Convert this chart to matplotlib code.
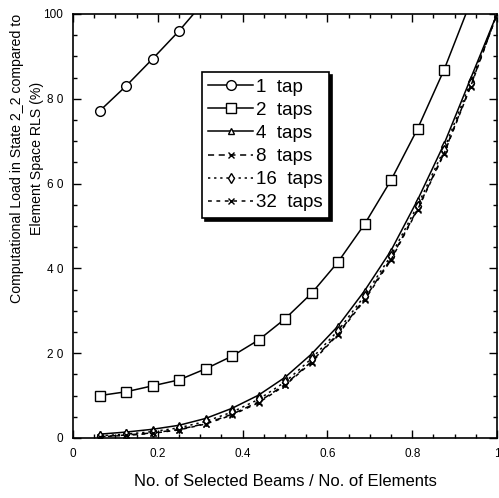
import matplotlib
matplotlib.use("Agg")
import matplotlib.pyplot as plt
from matplotlib.ticker import MultipleLocator

plt.rcParams['font.family'] = ['Liberation Sans', 'DejaVu Sans']

x = [k / 16 for k in range(1, 17)]
tap1 = [77.1, 83.0, 89.4, 96.0, 103.3]
tap2 = [10.0, 10.9, 12.3, 13.7, 16.3, 19.3, 23.1, 28.1, 34.1, 41.5, 50.4, 60.8, 72.9, 86.8, 102.8]
tap4 = [0.9, 1.4, 2.05, 3.0, 4.6, 7.0, 10.1, 14.3, 19.8, 26.4, 34.7, 44.2, 56.1, 69.3, 84.7, 100.0]
tap8 = [0.3, 0.7, 1.2, 2.0, 3.4, 5.6, 8.5, 12.6, 18.0, 24.6, 32.8, 42.3, 54.0, 67.2, 83.0, 100.0]
tap16 = [0.5, 0.9, 1.5, 2.4, 3.9, 6.1, 9.1, 13.2, 18.7, 25.3, 33.5, 43.0, 54.8, 68.0, 83.8, 100.0]
tap32 = [0.3, 0.6, 1.1, 1.9, 3.3, 5.4, 8.3, 12.4, 17.8, 24.4, 32.5, 42.0, 53.8, 67.0, 82.8, 100.0]

xticks = [0, 0.2, 0.4, 0.6, 0.8, 1]
xticklabels = ["0", "0.2", "0.4", "0.6", "0.8", "1"]
yticks = [0, 20, 40, 60, 80, 100]
yticklabels = ["0", "2 0", "4 0", "6 0", "8 0", "100"]

fig = plt.figure(figsize=(4.99, 4.98), dpi=100)
ax = fig.add_axes([0.1463, 0.1205, 0.8497, 0.8514])

lw = 1.1
ax.plot(x[:len(tap1)], tap1, '-', color='k', lw=lw, marker='o', ms=7, mfc='white', mec='k', mew=1.0, label='1  tap')
ax.plot(x[:len(tap2)], tap2, '-', color='k', lw=lw, marker='s', ms=7.5, mfc='white', mec='k', mew=1.0, label='2  taps')
ax.plot(x, tap4, '-', color='k', lw=lw, marker='^', ms=5, mfc='white', mec='k', mew=1.0, label='4  taps')
ax.plot(x, tap8, color='k', lw=lw, ls=(0, (4, 3)), marker='x', ms=5, mec='k', mew=1.0, label='8  taps')
ax.plot(x, tap16, color='k', lw=lw, ls=(0, (1.5, 2.5)), marker='d', ms=5, mfc='white', mec='k', mew=1.0, label='16  taps')
ax.plot(x, tap32, color='k', lw=lw, ls=(0, (2.5, 3)), marker='x', ms=5, mec='k', mew=1.0, label='32  taps')

ax.set_xlim(0, 1)
ax.set_ylim(0, 100)
ax.set_xticks(xticks)
ax.set_xticklabels(xticklabels)
ax.set_yticks(yticks)
ax.set_yticklabels(yticklabels)
ax.xaxis.set_minor_locator(MultipleLocator(0.05))
ax.yaxis.set_minor_locator(MultipleLocator(5))
ax.tick_params(which='both', direction='in', top=True, right=True, labelsize=8.5, width=1.0)
ax.tick_params(which='major', length=6, pad=7)
ax.tick_params(which='minor', length=3)
for s in ax.spines.values():
    s.set_linewidth(1.2)

ax.set_xlabel("No. of Selected Beams / No. of Elements", fontsize=12, labelpad=10)
ax.set_ylabel("Computational Load in State 2_2 compared to\nElement Space RLS (%)", fontsize=10.2,
              linespacing=1.6)
ax.yaxis.set_label_coords(-0.068, 0.66)

leg = ax.legend(loc='upper left', bbox_to_anchor=(0.304, 0.863), fontsize=13.5, frameon=True,
                fancybox=False, shadow={'color': 'k', 'alpha': 1}, handlelength=2.4,
                handletextpad=0.15, labelspacing=0.32, borderpad=0.35, borderaxespad=0)
leg.get_frame().set_edgecolor('k')
leg.get_frame().set_linewidth(1.2)

fig.savefig("out.png", dpi=100)
